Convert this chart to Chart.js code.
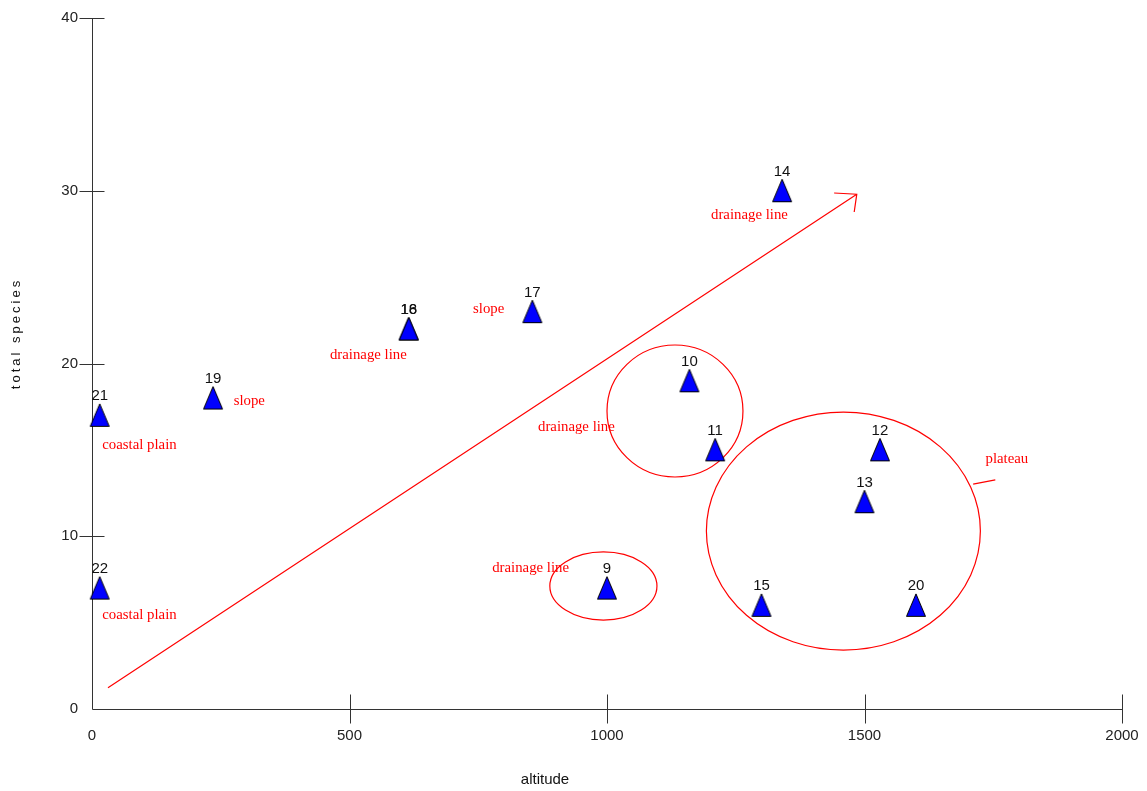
<!DOCTYPE html>
<html>
<head>
<meta charset="utf-8">
<title>total species vs altitude</title>
<script src="https://cdn.jsdelivr.net/npm/chart.js@4.4.1/dist/chart.umd.min.js"></script>
<style>
  html, body { margin: 0; padding: 0; background: #ffffff; }
  #wrap { width: 1147px; height: 791px; position: relative; }
</style>
</head>
<body>
<div id="wrap"><canvas id="c" width="1147" height="791"></canvas></div>
<script>
// Sample sites: site number, altitude and total species count
const siteLabels = ['21', '22', '19', '16', '18', '17', '14', '10', '11', '12', '13', '9', '15', '20'];
const altitude   = [15, 15, 235, 615, 615, 855, 1340, 1160, 1210, 1530, 1500, 1000, 1300, 1600];
const species    = [17, 7, 18, 22, 22, 23, 30, 19, 15, 15, 12, 7, 6, 6];

// Axis tick values
const xTicks = [0, 500, 1000, 1500, 2000];
const yTicks = [0, 10, 20, 30, 40];

// Habitat notes (text, altitude, species at text mid-line)
const noteText = ['drainage line', 'slope', 'drainage line', 'slope', 'coastal plain', 'coastal plain', 'drainage line', 'drainage line', 'plateau'];
const noteX    = [1202, 740, 462, 275, 20, 20, 866, 777, 1735];
const noteY    = [28.6, 23.15, 20.5, 17.83, 15.28, 5.44, 16.32, 8.16, 14.47];

// Grouping ellipses: centre and radii in axis units
const ringX  = [1132, 993, 1459];
const ringY  = [17.25, 7.12, 10.3];
const ringRX = [132, 104, 266];
const ringRY = [3.82, 1.97, 6.89];

// Trend arrow and plateau leader line (axis units)
const arrowFrom = [31, 1.23];
const arrowTo   = [1485, 29.8];
const arrowBarbA = [1441, 29.87];
const arrowBarbB = [1480, 28.77];
const leaderFrom = [1711, 13.02];
const leaderTo   = [1754, 13.26];

// Blue triangle marker
function makeTriangle() {
  const cv = document.createElement('canvas');
  cv.width = 22; cv.height = 25;
  const g = cv.getContext('2d');
  g.beginPath();
  g.moveTo(11, 1);
  g.lineTo(20.5, 23.5);
  g.lineTo(1.5, 23.5);
  g.closePath();
  g.fillStyle = '#0000ff';
  g.fill();
  g.strokeStyle = '#000000';
  g.lineWidth = 1;
  g.stroke();
  return cv;
}

const RED = '#ff0000';
const AXIS = '#333333';

const decorations = {
  id: 'decorations',
  beforeDatasetsDraw(chart) {
    const ctx = chart.ctx;
    const xs = chart.scales.x, ys = chart.scales.y;
    const px = v => xs.getPixelForValue(v);
    const py = v => ys.getPixelForValue(v);
    ctx.save();

    // axes with ticks crossing the axis lines
    ctx.strokeStyle = AXIS;
    ctx.lineWidth = 1;
    const x0 = Math.round(px(0)) + 0.5;
    const y0 = Math.round(py(0)) + 0.5;
    ctx.beginPath();
    ctx.moveTo(x0, Math.round(py(40)) + 0.5);
    ctx.lineTo(x0, y0);
    ctx.lineTo(Math.round(px(2000)) + 0.5, y0);
    yTicks.forEach(v => {
      if (v === 0) return;
      const y = Math.round(py(v)) + 0.5;
      ctx.moveTo(x0 - 13, y); ctx.lineTo(x0 + 12, y);
    });
    xTicks.forEach(v => {
      if (v === 0) return;
      const x = Math.round(px(v)) + 0.5;
      ctx.moveTo(x, y0 - 15); ctx.lineTo(x, y0 + 14);
    });
    ctx.stroke();

    // red annotations
    ctx.strokeStyle = RED;
    ctx.lineWidth = 1.2;
    ringX.forEach((cx, i) => {
      const rx = Math.abs(px(cx + ringRX[i]) - px(cx));
      const ry = Math.abs(py(ringY[i] + ringRY[i]) - py(ringY[i]));
      ctx.beginPath();
      ctx.ellipse(px(cx), py(ringY[i]), rx, ry, 0, 0, Math.PI * 2);
      ctx.stroke();
    });
    ctx.beginPath();
    ctx.moveTo(px(arrowFrom[0]), py(arrowFrom[1]));
    ctx.lineTo(px(arrowTo[0]), py(arrowTo[1]));
    ctx.moveTo(px(arrowBarbA[0]), py(arrowBarbA[1]));
    ctx.lineTo(px(arrowTo[0]), py(arrowTo[1]));
    ctx.lineTo(px(arrowBarbB[0]), py(arrowBarbB[1]));
    ctx.moveTo(px(leaderFrom[0]), py(leaderFrom[1]));
    ctx.lineTo(px(leaderTo[0]), py(leaderTo[1]));
    ctx.stroke();

    ctx.fillStyle = RED;
    ctx.font = '14.8px "Liberation Serif", "Times New Roman", serif';
    ctx.textAlign = 'left';
    ctx.textBaseline = 'middle';
    noteText.forEach((t, i) => ctx.fillText(t, px(noteX[i]), py(noteY[i])));

    // axis titles
    ctx.fillStyle = '#111111';
    ctx.font = '15px "Liberation Sans", Arial, sans-serif';
    ctx.textAlign = 'center';
    ctx.textBaseline = 'middle';
    ctx.fillText('altitude', 545, 780);
    ctx.save();
    ctx.translate(16, 335);
    ctx.rotate(-Math.PI / 2);
    ctx.font = '13px "Liberation Sans", Arial, sans-serif';
    ctx.letterSpacing = '3px';
    ctx.fillText('total species', 1.5, 0);
    ctx.restore();

    ctx.restore();
  },
  afterDatasetsDraw(chart) {
    const ctx = chart.ctx;
    const meta = chart.getDatasetMeta(0);
    ctx.save();
    ctx.fillStyle = '#111111';
    ctx.font = '15px "Liberation Sans", Arial, sans-serif';
    ctx.textAlign = 'center';
    ctx.textBaseline = 'alphabetic';
    meta.data.forEach((pt, i) => {
      ctx.fillText(siteLabels[i], pt.x, pt.y - 15);
    });
    ctx.restore();
  }
};

const points = altitude.map((a, i) => ({ x: a, y: species[i] }));

new Chart(document.getElementById('c'), {
  type: 'scatter',
  data: {
    datasets: [{
      data: points,
      pointStyle: makeTriangle(),
      pointRadius: 11,
      pointHoverRadius: 11,
      clip: false
    }]
  },
  options: {
    responsive: false,
    animation: false,
    events: [],
    layout: { padding: { top: 18, right: 25, bottom: 0, left: 0 } },
    plugins: { legend: { display: false }, tooltip: { enabled: false } },
    scales: {
      x: {
        type: 'linear',
        min: 0, max: 2000,
        afterFit: s => { s.height = 82; s.paddingLeft = 0; s.paddingRight = 0; },
        afterBuildTicks: s => { s.ticks = xTicks.map(v => ({ value: v })); },
        grid: { display: false, drawTicks: false },
        border: { display: false },
        ticks: {
          padding: 18,
          color: '#222222',
          font: { family: '"Liberation Sans", Arial, sans-serif', size: 15 },
          maxRotation: 0,
          callback: v => String(v)
        }
      },
      y: {
        type: 'linear',
        min: 0, max: 40,
        afterFit: s => { s.width = 92; s.paddingTop = 0; s.paddingBottom = 0; },
        afterBuildTicks: s => { s.ticks = yTicks.map(v => ({ value: v })); },
        grid: { display: false, drawTicks: false },
        border: { display: false },
        ticks: {
          padding: 14,
          color: '#222222',
          font: { family: '"Liberation Sans", Arial, sans-serif', size: 15 },
          callback: v => String(v)
        }
      }
    }
  },
  plugins: [decorations]
});
</script>
</body>
</html>
